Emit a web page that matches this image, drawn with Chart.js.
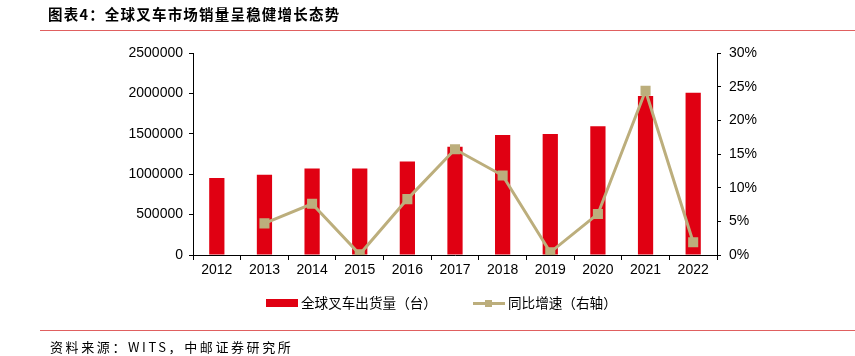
<!DOCTYPE html>
<html><head><meta charset="utf-8">
<script src="https://cdn.jsdelivr.net/npm/chart.js@4.4.0/dist/chart.umd.min.js"></script>
<style>
html,body{margin:0;padding:0;background:#fff;}
#wrap{position:relative;width:855px;height:356px;overflow:hidden;font-family:"Liberation Sans",Arial,sans-serif;}
#c{position:absolute;left:0;top:0;}
.title{position:absolute;left:48px;top:3px;font-family:"Noto Sans CJK SC";font-weight:bold;font-size:14.5px;color:#000;letter-spacing:1.2px;}
.hl{position:absolute;left:40px;right:0;height:1px;background:#e06060;}
.foot{position:absolute;left:50px;top:337px;font-family:"Noto Sans CJK SC";font-size:13px;color:#000;letter-spacing:2.6px;}
.leg{position:absolute;top:293px;font-family:"Noto Sans CJK SC";font-size:13.6px;color:#000;line-height:18px;}
</style></head>
<body><div id="wrap">
<canvas id="c" width="855" height="356"></canvas>
<div class="title">图表4：全球叉车市场销量呈稳健增长态势</div>
<div class="hl" style="top:30px"></div>
<div class="hl" style="top:330px"></div>
<div class="foot">资料来源：WITS，中邮证券研究所</div>
<div class="leg" style="left:266px"><span style="display:inline-block;width:32px;height:8px;background:#e00012;vertical-align:middle;margin-right:3px;position:relative;top:-1px"></span>全球叉车出货量（台）</div>
<div class="leg" style="left:473px"><span style="display:inline-block;width:32px;height:18px;vertical-align:middle;margin-right:3px;position:relative;top:-1px"><span style="position:absolute;left:0;top:8px;width:32px;height:3px;background:#bcae7c"></span><span style="position:absolute;left:12px;top:6px;width:7px;height:7px;background:#bcae7c"></span></span>同比增速（右轴）</div>
</div>
<script>
const categories = ["2012","2013","2014","2015","2016","2017","2018","2019","2020","2021","2022"];
const shipments = [952000, 994000, 1071000, 1070000, 1158000, 1339000, 1486000, 1499000, 1592000, 1967000, 2007000];
const growth = [null, 4.7, 7.6, 0.1, 8.3, 15.7, 11.8, 0.4, 6.1, 24.4, 1.9];
const leftTicks = [0, 500000, 1000000, 1500000, 2000000, 2500000];
const rightTicks = [0, 5, 10, 15, 20, 25, 30];

const tickFont = {family: "'Liberation Sans', Arial, sans-serif", size: 14};
new Chart(document.getElementById('c'), {
  data: {
    labels: categories,
    datasets: [
      {type:'line', label:'同比增速（右轴）', data: growth, yAxisID:'y1', order:0,
       borderColor:'#bcae7c', backgroundColor:'#bcae7c', borderWidth:3,
       pointStyle:'rect', pointRadius:5, pointHoverRadius:5, tension:0, spanGaps:false},
      {type:'bar', label:'全球叉车出货量（台）', data: shipments, yAxisID:'y', order:1,
       backgroundColor:'#e00012', categoryPercentage:1, barPercentage:0.32}
    ]
  },
  options: {
    responsive:false, animation:false,
    layout:{padding:{top:53, left:0, right:0, bottom:0}},
    plugins:{legend:{display:false}, tooltip:{enabled:false}},
    scales:{
      x:{offset:true,
         grid:{offset:true, drawOnChartArea:false, drawTicks:true, tickLength:5, color:'#000'},
         border:{color:'#000', width:1},
         ticks:{font:tickFont, color:'#000', padding:2},
         afterFit:(s)=>{s.height=101;}},
      y:{position:'left', min:0, max:2500000,
         afterBuildTicks:(s)=>{s.ticks = leftTicks.map(v=>({value:v}));},
         grid:{drawOnChartArea:false, drawTicks:true, tickLength:4, color:'#000'},
         border:{color:'#000', width:1},
         ticks:{font:tickFont, color:'#000', padding:6, callback:(v)=>String(v)},
         afterFit:(s)=>{s.width=193;}},
      y1:{position:'right', min:0, max:30,
         afterBuildTicks:(s)=>{s.ticks = rightTicks.map(v=>({value:v}));},
         grid:{drawOnChartArea:false, drawTicks:true, tickLength:4, color:'#000'},
         border:{color:'#000', width:1},
         ticks:{font:tickFont, color:'#000', padding:8, callback:(v)=>v+'%'},
         afterFit:(s)=>{s.width=138;}}
    }
  }
});
</script>
</body></html>
